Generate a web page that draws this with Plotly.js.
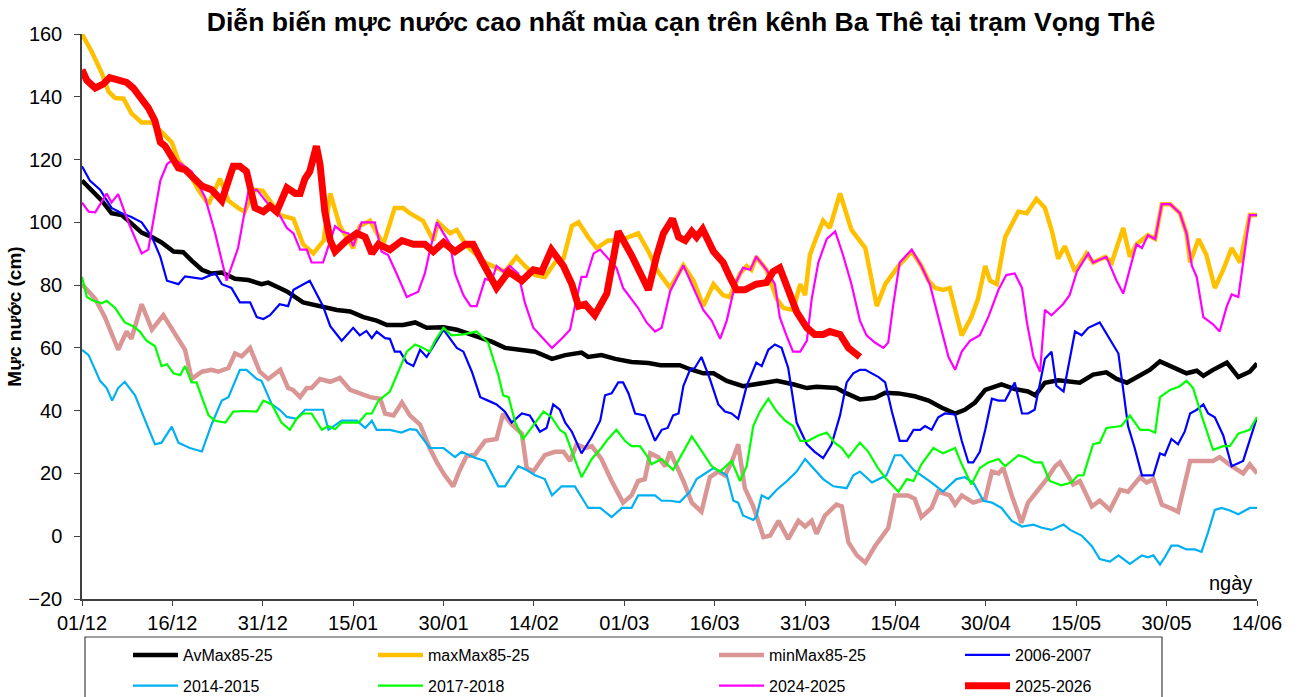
<!DOCTYPE html>
<html>
<head>
<meta charset="utf-8">
<script src="https://cdn.plot.ly/plotly-3.0.1.min.js"></script>
<style>
  html, body { margin: 0; padding: 0; background: #ffffff; }
  #chart { width: 1300px; height: 697px; }
</style>
</head>
<body>
<div id="chart"></div>
<script>
// ---- Tick labels (every 15 days from 01/12) ----
const tickLabels = ['01/12','16/12','31/12','15/01','30/01','14/02','01/03','16/03','31/03','15/04','30/04','15/05','30/05','14/06'];

// ---- AvMax85-25 ----
const avDays = [0,1.6,3.3,4.9,6.6,8,9.9,11.6,13.2,15.2,16.8,18.2,19.9,21.5,23.2,25.4,27.6,29.8,30.9,32.8,34,36.7,39.5,42.3,44.5,46.7,48.9,50.6,53.3,55.3,57.2,60,62.2,64.5,66.3,68,70.2,72.4,75.2,78,80.2,82.9,84,86.2,88.5,91.2,94,96,99.2,100.9,103.1,104.8,107,109.7,112.5,115.3,118,120.3,121.9,125.2,126.9,129.1,131.6,133.3,135.5,138.2,140.5,142.7,144.9,146.5,148.2,149.9,152.6,154.8,157,158.2,159.8,162,165.6,167.8,170,171.7,173.4,175.6,177.2,178.9,180.6,183.3,185,186.1,187.7,190,191.9,193.8,195];
const avVals = [113.3,110.4,106.9,102.9,102.3,100,96.7,95.3,93.6,90.7,90.5,87.8,84.9,83.7,84,82,81.6,80.3,80.8,79.1,78,74.5,73.3,72.1,71.6,69.8,68.7,67.3,67.3,68.1,66.4,66.6,65.8,64.2,62.9,62,60,59.4,58.8,56.5,57.7,58.5,57.1,57.7,56.5,55.5,55.2,54.5,54.5,53.2,51.9,51.9,49.5,47.8,48.7,49.5,48.4,47.2,47.6,47.2,45.5,43.6,44.1,45.7,45.5,44.6,43.2,40.9,39.1,40.3,42.6,46.6,48.4,46.9,46.1,44.9,48.9,49.7,48.9,51.5,52.2,50.1,48.9,51.2,53,55.7,54.2,51.9,52.7,51.1,53,55.3,50.7,52.4,55];

// ---- maxMax85-25 ----
const maxDays = [0,1.6,3.3,4.4,5.5,6.9,8.2,9.9,11.6,13.2,14.9,16,17.6,19.3,21,22.9,24.3,25.9,27,28.5,30,31.5,32.9,35.1,36.7,38.4,40.1,41.2,42.8,45,46.1,47.8,50,51.9,53.3,54.4,56.6,58.3,59.1,61.1,62.2,63.8,66.9,68.8,70.2,72.1,73.5,75.2,76.8,78.5,79.9,81.3,82.4,84,85.4,87.3,89,90.7,92.3,94,95.6,97.6,99.8,101.5,103.1,104.8,106.4,107.5,109.2,110.3,111.1,111.9,113.6,115.3,116.4,118,119.2,120,120.8,121.9,123,124.1,125.8,127.7,130,131.9,133.3,135.5,137.7,139.3,140.5,141.6,142.9,144,146,147.6,148.7,149.9,150.7,151.8,153.2,155.4,156.8,158.4,159.8,161,162,163.1,164.8,166.7,167.8,169.8,170.9,172.8,173.9,175,176.9,178.1,179.2,180.6,182.2,183.3,183.9,185.3,186.6,188,189.4,190.8,192.2,193.8,195];
const maxVals = [160,154.4,147.5,141.7,139.6,139.4,134.7,131.8,131.8,128.9,125.5,119.7,116.2,110.4,105.8,113.9,106.9,104.6,103.4,110.4,110,106,102.3,101.1,93,90.1,94.2,109.2,98.8,91.8,98.8,100.5,93,104.6,104.6,102.9,100.5,94.2,100,96.5,97.6,92.5,87.2,85.5,84.3,89,86.1,83.2,82.6,87.2,88.4,98.8,100,95.3,91.8,94.2,94.2,95.3,96.5,90.7,84.3,79.1,86.3,81.4,73.3,80.3,76.8,76.2,83.7,86.1,84.9,89,84.9,75.6,72.7,72.1,80.3,76.8,89.6,95.3,100.5,98.2,109.2,97.6,91.8,73.3,80.3,86.1,90.7,86.1,81.4,79.1,78.5,79.1,64,69.8,75.6,86.1,81.4,80.3,95.3,103.4,102.9,107.5,104.6,97,88.4,92.4,84.3,90.1,87.2,89,87.2,98.2,89,93,95.9,94.7,105.8,105.8,102.9,96.5,87.2,94.7,89.6,79.1,84.9,91.8,87.2,102.3,102.3];

// ---- minMax85-25 ----
const minDays = [0,2.2,3.8,6,7.4,8.2,9.9,11.6,13.5,16,17.1,18.2,19.9,21.5,22.6,24.3,25.4,26.5,27.9,29.5,30.9,32.9,34.2,35,36.2,37.3,38.1,39.5,41.2,42.8,44.5,46.1,47.8,49.5,50.3,51.7,53.1,54.4,56.1,57.7,58.9,60.2,61.6,62.7,63.8,65.2,66.9,68.8,69.9,71.3,73,73.8,74.9,76.8,78.5,79.9,81,82.1,83.5,84.6,86.2,87.9,89.8,91.2,92.3,93.4,94.3,95.6,96.8,97.6,99.8,101.2,102.8,104.2,105.6,106.7,107.8,108.9,110,111.4,113.1,114.2,115.6,117.2,118.9,120,121.1,121.9,123.3,125.2,126.1,127.2,128.6,130,131.6,133.8,134.9,137.1,138.2,139.3,141,142.1,144,144.9,146,147.9,149.9,151,152.1,152.9,154.3,155.9,157,158.7,160.1,161.5,162.3,163.4,164.5,165.6,167.6,168.9,170.6,172.3,173.6,175.6,176.7,177.8,179.2,180.6,181.9,183.9,185.8,187.7,188.8,190.8,192.7,193.8,195];
const minVals = [80.3,75.6,69.8,59.4,65.2,62.9,73.9,65.8,70.4,62.3,59.4,50.1,52.4,53,52.4,53.6,58.2,57.3,60,52.4,50.1,53,47.2,46.6,44.3,47.2,47.2,50.1,49.2,50.4,46.6,45.5,44.3,43.8,39.1,38.5,42.6,38.5,35.6,28.1,23.5,19.4,15.9,21.1,25.5,26,30.4,31,39.1,35.6,32.7,21.7,20.6,25.8,26.9,26.9,24,29.3,28.1,28.7,24.6,17.6,10.7,13,17.6,18.2,26.4,25.2,22.3,26.9,17.6,10.7,7.8,18.8,20.6,19.4,23.5,29.3,15.3,9.5,-0.3,0.2,4.9,-0.9,4.9,3.1,4.9,0.8,6.6,10.1,9.5,-2,-6.1,-8.4,-3.2,2.6,13,13,11.9,6.1,9,14.2,13,10.1,13,10.7,11.9,20.6,20,21.7,13,4.3,10.7,14.8,18.2,22.3,23.5,20,16.5,17.6,9.5,11.3,8.4,14.8,14.2,18.8,17.1,18.2,10.1,9,7.8,24,24,24,25.2,22.3,20,22.9,20];

// ---- 2006-2007 ----
const y0607Days = [0,1.3,3,4.9,6.6,8.2,9.9,11.6,13,14.1,16,17.1,19.9,22.1,23.2,24.8,26.2,27.9,29,30.1,31.2,32.8,34.2,35.1,37.8,40,41.2,43.1,45,46.1,47.2,48.1,48.9,50.3,51.1,51.9,52.8,53.9,55,56.1,57.2,58.3,60,62.2,63.3,64.7,66.1,67.4,68.8,70.2,71.3,73,74.3,76,77.1,78.2,79.3,80.2,81.3,82.9,84.6,86,86.8,87.9,89,89.8,90.7,91.8,93.4,95.1,96.2,97.2,98.1,99,99.8,100.9,101.7,102.8,104.2,105.6,106.7,107.8,108.9,110.3,111.9,112.8,113.9,115,116.1,117.2,118.6,120.3,121.6,123,124.4,125.8,126.9,128,129.1,130,132.2,133.3,134.4,135.7,136.9,138,139.1,139.9,141,142.1,143.2,144.9,146,147.1,147.9,149,149.9,151,152.1,153.2,154.8,156,157,158.1,159.8,160.9,161.7,162.9,164.8,165.9,167,168.9,170.6,172,173.6,174.7,175.9,177.8,178.9,179.7,180.8,181.9,183,183.9,185,186.1,186.9,188,189.4,190.8,192.7,195];
const y0607Vals = [117.9,113.3,110.4,104.6,102.9,101.7,100,95.3,89,81.4,80.3,82.8,82,83.8,80.3,79.1,74.5,74.5,69.8,69.2,70.4,73.9,73.3,78.5,81.4,73.3,66.9,62.3,66.4,64,65.4,63.1,65.2,63.1,62.9,58.8,58.8,55.3,54.2,59.4,57.1,60.6,65.8,60,58.8,52.4,44.3,43.2,42,39.7,36.2,39.1,38.5,33.3,34.5,42,40.3,36.2,33.3,26.4,31.6,36.8,44.9,45.5,49,49,45.5,39.1,38.5,30.4,33.9,34.5,38.5,39.1,47.8,53,53.6,57.1,50.1,42,39.7,39.1,37.4,47.8,55.3,54.2,59.4,61.1,60,53.6,36.2,29.3,26.9,24.9,29.3,38.5,49,51.9,53,53,50.7,49,39.7,30.4,30.4,33.9,33.9,35.1,33.9,37.9,39.1,38.8,30.4,23.5,23.5,26.9,33.9,43.8,43.2,43.2,49,39.1,39.1,40.3,56.5,58.8,48,46.1,65.2,64,66.4,68.1,62.9,58.2,35.1,28.1,19.4,19.4,26.4,25.8,31,29.3,33.3,39.1,40.3,42,39.1,37.9,32.1,22.3,24,37.9];

// ---- 2014-2015 ----
const y1415Days = [0,1.1,3,4.1,5,6,7.1,8.8,10.5,12.1,13.2,14.9,16,17.9,19.9,21.5,23.2,24.3,26.2,27.3,29,29.8,31.5,32.8,34,35.6,37,40,40.9,43.1,45.6,47,48.1,48.9,51.1,53,54.4,55.5,57.7,60,61.9,63,65.2,66.9,69.1,70.2,72.4,73.8,75.2,76.8,78,79.6,81.8,84,86,87.9,89.6,91.2,92.3,95.1,96.2,97.6,99.2,100.9,102,104.8,105.9,107,108.1,108.9,109.7,111.4,111.9,112.8,113.9,115.3,117,118.6,120,121.4,123,124.7,126.9,128,129.1,131.1,133.5,134.9,136,138,139.3,141,142.9,145.1,146.5,147.9,149.6,151,152.6,154.3,156,157.9,159.3,160.9,162.9,164,165.9,167.6,168.9,170.6,172,173.9,175.9,176.9,177.8,178.9,179.7,180.8,181.9,183.3,184.7,185.8,186.9,188,189.1,190.5,191.9,193.8,195];
const y1415Vals = [59.4,57.7,49.5,47.2,43.2,47.2,49.2,44.9,36.8,29.3,29.8,34.9,29.8,28.1,27,35.6,43.2,44.3,53,53,50.1,49.5,42,40.3,38,37.4,40.3,40.3,33.9,36.8,36.8,34.5,36.8,33.9,33.9,33,34.1,33.9,28.1,28.1,25.2,26.9,25,24,15.9,15.9,22.3,21.1,19.4,18.2,13,15.9,15.9,9,9,6.1,9,9,13,13,11.3,11.3,10.9,14.2,18.2,21.7,20.6,19.4,11.3,10.7,6.6,5.2,6.1,13,11.9,14.8,17.6,20.6,24.6,21.7,18.2,15.9,15.3,19.4,20.6,17.1,19.4,25.8,25.8,21.1,19.4,17.1,14.2,18.2,18.8,17.1,11.3,10.7,9,4.9,3.1,3.7,2.7,2,3.7,2,0.2,-3.2,-7.3,-8.1,-6.1,-8.8,-6.1,-6.7,-6.1,-9,-6.7,-3,-3,-4.2,-4.2,-5,1.4,8.4,9,8.2,7,9,9];

// ---- 2017-2018 ----
const y1718Days = [0,0.8,1.9,3.3,4.1,5.5,7.1,8.5,9.6,10.7,12.1,13.2,14.1,15.2,16.3,17.1,18.2,19,20.1,21,22.1,23.8,25.1,27.1,29,30.1,31.5,33.1,34.5,35.6,36.7,38.1,39.8,40.9,42,43.1,45.9,47.2,48.1,49.2,51.1,52.5,53.9,55.3,56.6,57.7,58.6,60,61.3,63.3,65.5,67.4,69.1,69.9,70.8,71.9,73.2,74.6,76.6,77.9,79.3,80.2,81.3,82.9,84.6,86.2,87.3,88.7,90.1,91.2,92.6,93.7,94.5,96.2,98.1,99.5,101.2,103.1,104.5,105.9,107.8,109.2,110.3,111.4,112.5,113.9,115.3,116.7,118,119.2,120.5,122.2,123.6,124.9,126.1,127.2,129.1,130.5,132.1,133.5,135.5,136.9,138,139.3,141.3,142.9,144.9,146,147.6,149,150.4,152.1,153.2,155.4,156.5,158.1,159.3,160.6,162.5,164.2,165.3,166.2,167.8,168.9,170,172.5,173.9,175.6,177,178.1,178.9,180.6,182.2,183.3,184.4,185.8,187.7,189.4,190.5,191.9,193.8,195];
const y1718Vals = [82.6,76.2,75,74.2,75,72.7,68.1,66.9,65.2,62.3,60.6,54.2,54.8,51.9,51.3,54.2,49,49,43.2,38.5,36.8,36.2,39.7,39.9,39.7,43.2,42,36.2,33.9,37.4,39.1,39.1,33.9,35.1,34.1,36.2,36.2,39.1,39.1,43.2,46.1,52.4,58.8,61.1,60,58.8,62.3,66.4,64,64.3,65.2,61.7,51.3,44.9,44.3,36.2,31,34.5,39.7,38,33.9,32.7,26.9,18.8,24.6,28.1,31,33.9,30.4,28.7,28.7,25.8,22.9,24.6,21.1,25.8,31.8,26.4,22.3,20.6,24,17.6,22.3,35.1,39.7,43.8,39.7,36.8,35.1,30.4,30.4,32.1,33,29.8,28.1,25.2,29.8,26.9,21.7,18.2,14.2,18.2,17.6,22.9,28.1,26.4,28.1,22.9,16.5,21.7,23.5,24.6,22.3,25.8,25.2,23.5,23.5,17.6,16.2,17.1,19.4,19.4,29.3,29.8,34.5,35.1,38.5,33.9,33.9,33,44.3,46.6,47.8,49.5,47.2,38.5,27.5,28.7,28.7,32.7,33.9,38];

// ---- 2024-2025 ----
const y2425Days = [0,1.1,2.2,4.1,4.9,6,7.7,9.9,11,13,14.1,15.2,16.5,18.2,20.4,22.1,24,25.9,27.6,29,30.9,32.8,34,35.1,36.2,37.3,38.1,40,42,43.1,44.2,45,46.4,48.6,49.7,50.8,52.2,53.9,55.8,56.9,57.7,58.9,60,61.1,61.9,63.3,64.5,65.5,66.9,68,68.8,69.9,71,72.4,73.5,74.9,76.3,78,79.6,81,81.8,82.9,83.7,84.9,86,87.3,88.7,89.8,91.2,92.3,93.7,95.1,96.2,97.6,99.8,101.5,103.1,104.5,105.9,107,108.4,109.7,110.9,111.9,113.6,115,115.8,116.9,118,119.2,120.3,121.1,122.2,123.6,125,126.3,127.7,129.1,130.2,131.6,133,133.8,134.6,135.7,137.7,139.3,140.7,142.1,143.8,144.9,146,147.4,149,150.4,152.1,153.4,154.8,156,156.8,157.9,159,159.8,160.9,162.8,163.9,165.1,167,167.8,170,171.7,172.8,175,175.9,176.9,178.1,179.2,180.6,182.2,183.3,184.2,185,186.1,187.7,188.8,190,190.8,191.9,193.8,195];
const y2425Vals = [106.3,103.4,103.2,109.2,106.3,109,100,90.1,91.3,113.3,118.5,120.2,118.5,116.2,108.1,96.5,81.4,91.8,109.8,110.4,105.8,102.3,98.2,96.5,91.3,91.3,87.2,87.2,98.8,97.1,96.5,92.4,100,100,90.7,89.6,83.7,76.2,77.9,83.7,90.7,100,96.5,93,83.7,76.8,73.3,73.3,82,81.4,86.1,84.3,86.1,83.7,74.4,66.4,63.5,60,62.9,65.8,73.3,82.6,82.6,90.1,91.3,88.4,85.5,79.1,75.6,72.7,68.1,65.2,66.4,78,86.3,79.1,72.1,68.7,62.9,68.7,80.3,85.5,84.9,89,84.9,80.3,69.8,64,58.8,58.8,62.3,75.6,87.2,94.7,97.1,89.6,80.3,68.7,64,61.7,60,61.7,73.3,87.2,91.3,86.1,80.3,69.8,57.1,53,58.8,62.3,64,69.8,78.5,83.2,83.7,79.1,68.3,57.1,52.4,72.1,70.4,73.9,76.8,84.3,90.1,87.2,89,81.4,77.3,93,91.8,95.9,94.7,105.8,105.8,102.9,96.5,86.1,82.6,69.8,67.5,65.2,73.3,77,76.2,102.3,102.3];

// ---- 2025-2026 ----
const y2526Days = [0,0.8,2.2,3.5,4.6,5.8,7.4,8.5,9.6,11,12.1,13,13.8,14.9,16,17.1,18.5,19.9,21.5,23.2,24.3,25.1,26.2,27.3,28.7,30.1,31.2,32.3,34,35.4,36.2,37,37.8,38.9,39.5,40.3,41.2,42,43.9,45.6,47,48.1,49.2,51.1,53.1,55,56.9,58.3,60,61.9,63.6,64.9,66.3,67.7,68.8,70.8,73,74.9,76.3,77.9,79.9,81.3,82.4,83.5,85.1,87.1,88.2,89,91.2,92.6,94,95.4,96.5,98,99,100.1,101.2,102,103,104.8,106.4,107.5,108.6,110,111.9,113.6,114.7,115.8,117.2,118.6,120.3,121.6,123,124.1,125.8,127.2,129.1];
const y2526Vals = [148.6,145.2,142.8,144,146.1,145.7,144.6,142.8,139.9,136.5,132.4,125.5,124.3,120.2,117.3,116.8,114.4,111.6,110.4,106.9,113.3,117.9,117.9,116.2,104.6,103.4,105.2,103.4,111,109.2,109.2,113.9,116.2,124.3,118.5,103.4,94.2,90.7,94.2,96.5,95.3,90.1,93,91.3,94.2,93,93,90.7,93.6,90.7,93,93,87.8,83.2,79.1,84.3,81.4,84.9,84.3,91.3,86.1,80.3,73.3,73.9,70.4,77.3,89.5,97.1,89.5,84.3,78.5,89.5,96.5,101.1,95.3,94.2,97.1,95.3,97.8,90.7,87.2,82.6,78.5,78.5,80.3,80.8,84.3,85.5,77.9,71.5,66.4,64.3,64.3,65.2,64.3,60,57.1];

// ---- build chart ----
const FONT = 'Arial, "Liberation Sans", sans-serif';
function tr(name, x, y, color, width, legend, group) {
  return { type: 'scatter', mode: 'lines', name: name, x: x, y: y,
           line: { color: color, width: width }, legend: legend, legendgroup: group,
           hoverinfo: 'x+y+name' };
}
const data = [
  tr('AvMax85-25', avDays, avVals, '#000000', 4.5, 'legend', 'a'),
  tr('maxMax85-25', maxDays, maxVals, '#FFC000', 4.5, 'legend2', 'b'),
  tr('minMax85-25', minDays, minVals, '#D99694', 4.5, 'legend3', 'c'),
  tr('2006-2007', y0607Days, y0607Vals, '#0000FF', 2.2, 'legend4', 'd'),
  tr('2014-2015', y1415Days, y1415Vals, '#00B0F0', 2.2, 'legend', 'e'),
  tr('2017-2018', y1718Days, y1718Vals, '#00FF00', 2.2, 'legend2', 'f'),
  tr('2024-2025', y2425Days, y2425Vals, '#FF00FF', 2.2, 'legend3', 'g'),
  tr('2025-2026', y2526Days, y2526Vals, '#FF0000', 7, 'legend4', 'h')
];

const plotL = 82, plotR = 1257, plotT = 34, plotB = 599;
const pw = plotR - plotL, ph = plotB - plotT;
const px = v => (v - plotL) / pw;
const py = v => (plotB - v) / ph;

function legendAt(xpix) {
  return { x: px(xpix), xanchor: 'left', y: py(638), yanchor: 'top',
           orientation: 'v', bgcolor: 'rgba(0,0,0,0)', borderwidth: 0,
           font: { family: FONT, size: 16, color: '#000' }, tracegroupgap: 7,
           itemwidth: 45 };
}

const layout = {
  width: 1300, height: 697,
  margin: { l: plotL, r: 1300 - plotR, t: plotT, b: 697 - plotB, pad: 0, autoexpand: false },
  paper_bgcolor: '#ffffff', plot_bgcolor: '#ffffff',
  font: { family: FONT, size: 20, color: '#000' },
  title: { text: 'Diễn biến mực nước cao nhất mùa cạn trên kênh Ba Thê tại trạm Vọng Thê',
           font: { family: FONT, size: 26.6, weight: 700, color: '#000' },
           xref: 'paper', x: px(681), xanchor: 'center',
           yref: 'container', y: 1 - 22 / 697, yanchor: 'middle' },
  xaxis: { range: [0, 195], tickmode: 'array',
           tickvals: tickLabels.map((t, i) => i * 15), ticktext: tickLabels,
           showgrid: false, zeroline: false, showline: true, linecolor: '#404040', linewidth: 1.5,
           ticks: 'outside', ticklen: 5, tickwidth: 1.2, tickcolor: '#404040',
           tickfont: { family: FONT, size: 20, color: '#000' }, fixedrange: true },
  yaxis: { range: [-20, 160], dtick: 20, tick0: 0,
           showgrid: false, zeroline: false, showline: true, linecolor: '#404040', linewidth: 1.5,
           ticks: 'outside', ticklen: 6, tickwidth: 1.2, tickcolor: '#404040',
           ticklabelstandoff: 8,
           tickfont: { family: FONT, size: 20, color: '#000' },
           title: { text: 'Mực nước (cm)', font: { family: FONT, size: 19, weight: 700, color: '#000' }, standoff: 2 },
           fixedrange: true },
  showlegend: true,
  legend: legendAt(128),
  legend2: legendAt(373),
  legend3: legendAt(714),
  legend4: legendAt(960),
  shapes: [
    { type: 'rect', xref: 'paper', yref: 'paper',
      x0: px(85), x1: px(1162), y0: py(710), y1: py(637),
      line: { color: '#404040', width: 1.2 }, fillcolor: 'rgba(0,0,0,0)', layer: 'below' }
  ],
  annotations: [
    { text: 'ngày', xref: 'paper', yref: 'paper', x: px(1254), y: py(583),
      xanchor: 'right', yanchor: 'middle', showarrow: false,
      font: { family: FONT, size: 20, color: '#000' } }
  ]
};

Plotly.newPlot('chart', data, layout, { displayModeBar: false, staticPlot: false });
</script>
</body>
</html>
